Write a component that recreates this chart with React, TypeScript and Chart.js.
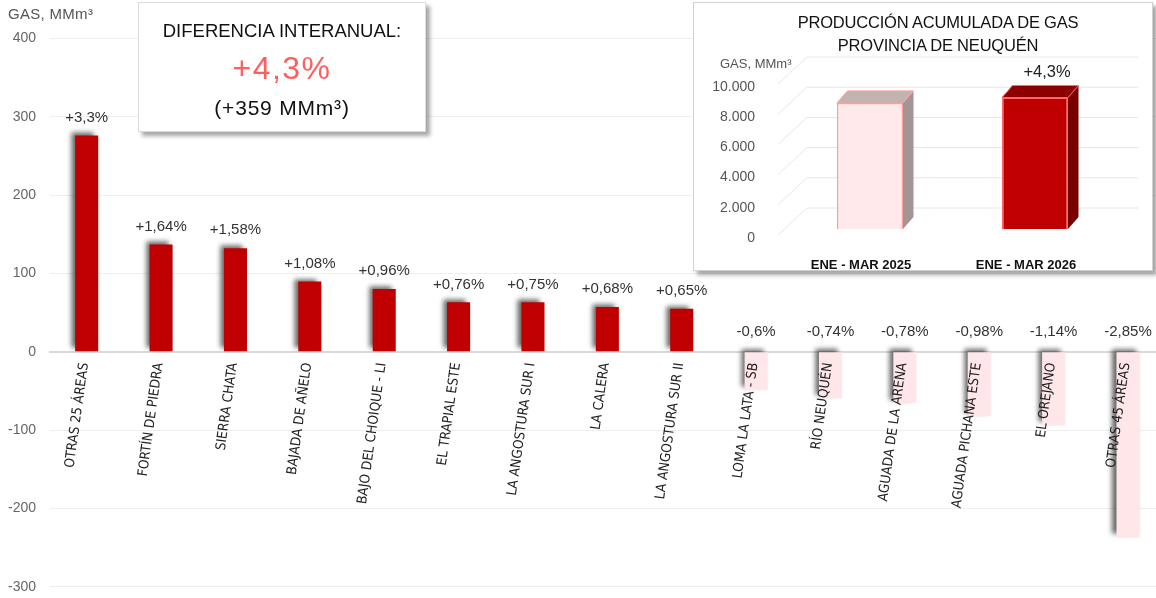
import React, { useEffect, useRef } from "react";
import { Chart, registerables } from "chart.js";

Chart.register(...registerables);

// ---------- DATA ----------
const categories = [
  "OTRAS 25 ÁREAS",
  "FORTÍN DE PIEDRA",
  "SIERRA CHATA",
  "BAJADA DE AÑELO",
  "BAJO DEL CHOIQUE - LI",
  "EL TRAPIAL ESTE",
  "LA ANGOSTURA SUR I",
  "LA CALERA",
  "LA ANGOSTURA SUR II",
  "LOMA LA LATA - SB",
  "RÍO NEUQUÉN",
  "AGUADA DE LA ARENA",
  "AGUADA PICHANA ESTE",
  "EL OREJANO",
  "OTRAS 45 ÁREAS",
];
const diffValues = [276, 137, 132, 89.5, 80, 63, 63, 57, 55, -49, -59, -65, -82, -94, -237];
const pctLabels = [
  "+3,3%", "+1,64%", "+1,58%", "+1,08%", "+0,96%", "+0,76%", "+0,75%", "+0,68%", "+0,65%",
  "-0,6%", "-0,74%", "-0,78%", "-0,98%", "-1,14%", "-2,85%",
];
const yMin = -300;
const yMax = 400;
const yStep = 100;

const insetCategories = ["ENE - MAR 2025", "ENE - MAR 2026"];
const insetValues = [8349, 8708];
const insetDeltaLabel = "+4,3%";
const insetMax = 10000;
const insetStep = 2000;

const summaryTitle = "DIFERENCIA INTERANUAL:";
const summaryPct = "+4,3%";
const summaryAbs = "(+359 MMm³)";
const unitLabel = "GAS, MMm³";
const insetTitle1 = "PRODUCCIÓN ACUMULADA DE GAS";
const insetTitle2 = "PROVINCIA DE NEUQUÉN";

// ---------- STYLE ----------
const FONT = '"Liberation Sans", Arial, sans-serif';
const NARROW = '"Liberation Sans Narrow", "DejaVu Sans Condensed", sans-serif';
const POS_COLOR = "#c00000";
const NEG_COLOR = "#ffe6e8";

const shadowPlugin = {
  id: "barShadow",
  beforeDatasetsDraw(chart: any) {
    const c = chart.ctx;
    c.save();
    c.shadowColor = "rgba(0,0,0,0.6)";
    c.shadowBlur = 5;
    c.shadowOffsetX = -4;
    c.shadowOffsetY = -3;
  },
  afterDatasetsDraw(chart: any) {
    chart.ctx.restore();
  },
};

const pctLabelPlugin = {
  id: "pctLabels",
  afterDatasetsDraw(chart: any) {
    const ctx = chart.ctx;
    const meta = chart.getDatasetMeta(0);
    const y0 = chart.scales.y.getPixelForValue(0);
    ctx.save();
    ctx.font = `15px ${FONT}`;
    ctx.fillStyle = "#333";
    ctx.textAlign = "center";
    ctx.textBaseline = "middle";
    meta.data.forEach((bar: any, i: number) => {
      const v = diffValues[i];
      const y = v >= 0 ? bar.y - 18 : y0 - 20;
      ctx.fillText(pctLabels[i], bar.x, y);
    });
    ctx.restore();
  },
};

const insetSide = ["#a39595", "#780000"];
const insetTop = ["#c2b3b3", "#8e0000"];
const insetBorder = ["#ff9c9c", "#ff6666"];
const DX = 10.5;
const DY = 12;

const grid3dPlugin = {
  id: "grid3d",
  beforeDatasetsDraw(chart: any) {
    const ctx = chart.ctx;
    const ys = chart.scales.y;
    ctx.save();
    ctx.strokeStyle = "#e6e6e6";
    ctx.lineWidth = 1;
    ys.ticks.forEach((t: any) => {
      const py = ys.getPixelForValue(t.value);
      ctx.beginPath();
      ctx.moveTo(84, py + 6);
      ctx.lineTo(113, py - 21);
      ctx.lineTo(444, py - 21);
      ctx.stroke();
    });
    ctx.restore();
  },
};

const bar3dPlugin = {
  id: "bar3d",
  beforeDatasetsDraw(chart: any) {
    const ctx = chart.ctx;
    const meta = chart.getDatasetMeta(0);
    ctx.save();
    meta.data.forEach((bar: any, i: number) => {
      const { x, y, base, width } = bar.getProps(["x", "y", "base", "width"], true);
      const l = x - width / 2;
      const r = x + width / 2;
      ctx.lineWidth = 1;
      ctx.strokeStyle = insetBorder[i];
      ctx.fillStyle = insetSide[i];
      ctx.beginPath();
      ctx.moveTo(r, y);
      ctx.lineTo(r + DX, y - DY);
      ctx.lineTo(r + DX, base - DY);
      ctx.lineTo(r, base);
      ctx.closePath();
      ctx.fill();
      ctx.fillStyle = insetTop[i];
      ctx.beginPath();
      ctx.moveTo(l, y);
      ctx.lineTo(l + DX, y - DY);
      ctx.lineTo(r + DX, y - DY);
      ctx.lineTo(r, y);
      ctx.closePath();
      ctx.fill();
      ctx.stroke();
    });
    ctx.restore();
  },
  afterDatasetsDraw(chart: any) {
    const ctx = chart.ctx;
    const meta = chart.getDatasetMeta(0);
    const bar = meta.data[1];
    ctx.save();
    ctx.font = `16.5px ${FONT}`;
    ctx.fillStyle = "#222";
    ctx.textAlign = "center";
    ctx.textBaseline = "middle";
    ctx.fillText(insetDeltaLabel, bar.x + 12, bar.y - 25);
    ctx.restore();
  },
};

function Txt(props: {
  left: number; cy: number; width: number; size: number; lh?: number;
  color?: string; weight?: number | string; ls?: number; align?: any; family?: string; children: any;
}) {
  const lh = props.lh ?? Math.round(props.size * 1.2);
  return (
    <div
      style={{
        position: "absolute",
        left: props.left,
        top: props.cy - lh / 2,
        width: props.width,
        lineHeight: `${lh}px`,
        fontSize: props.size,
        fontFamily: props.family ?? FONT,
        color: props.color ?? "#111",
        fontWeight: props.weight ?? 400,
        letterSpacing: props.ls ?? 0,
        textAlign: props.align ?? "center",
        whiteSpace: "pre",
      }}
    >
      {props.children}
    </div>
  );
}

export default function App() {
  const mainRef = useRef<HTMLCanvasElement>(null);
  const insetRef = useRef<HTMLCanvasElement>(null);

  useEffect(() => {
    Chart.defaults.font.family = FONT;
    const main = new Chart(mainRef.current as HTMLCanvasElement, {
      type: "bar",
      data: {
        labels: categories,
        datasets: [
          {
            data: diffValues,
            backgroundColor: diffValues.map((v) => (v >= 0 ? POS_COLOR : NEG_COLOR)),
            borderWidth: 0,
            barPercentage: 0.31,
            categoryPercentage: 1,
          },
        ],
      },
      options: {
        responsive: false,
        animation: false,
        layout: { padding: { top: 38.3, bottom: 11.2, left: 0, right: 4.8 } },
        plugins: { legend: { display: false }, tooltip: { enabled: false } },
        scales: {
          x: {
            position: { y: 0 } as any,
            grid: { display: false },
            border: { color: "#d9d9d9", width: 2 },
            ticks: {
              z: 1,
              minRotation: 82,
              maxRotation: 82,
              autoSkip: false,
              padding: 2,
              labelOffset: -2,
              color: "#222",
              font: { size: 13.7, family: NARROW },
            },
          },
          y: {
            min: yMin,
            max: yMax,
            ticks: { stepSize: yStep, padding: 0, color: "#666", font: { size: 14 } },
            grid: {
              color: "#eeeeee",
              drawTicks: true,
              tickLength: 13.5,
              tickColor: "rgba(0,0,0,0)",
              lineWidth: 1,
            },
            border: { display: false },
            afterFit(s: any) {
              s.width = 49.5;
            },
          },
        },
      },
      plugins: [shadowPlugin, pctLabelPlugin],
    });

    const inset = new Chart(insetRef.current as HTMLCanvasElement, {
      type: "bar",
      data: {
        labels: insetCategories,
        datasets: [
          {
            data: insetValues,
            backgroundColor: ["#ffe9eb", POS_COLOR],
            borderColor: insetBorder,
            borderWidth: 1.5,
            barPercentage: 0.4,
            categoryPercentage: 1,
          },
        ],
      },
      options: {
        responsive: false,
        animation: false,
        layout: { padding: { top: 75, right: 34.5, left: 0, bottom: 0 } },
        plugins: { legend: { display: false }, tooltip: { enabled: false } },
        scales: {
          x: {
            grid: { display: false },
            border: { display: false },
            ticks: { labelOffset: -9, padding: 21, color: "#111", font: { size: 13, weight: "bold" } },
            afterFit(s: any) {
              s.height = 41;
            },
          },
          y: {
            min: 0,
            max: insetMax,
            ticks: {
              stepSize: insetStep,
              labelOffset: 9,
              padding: 24.5,
              color: "#555",
              font: { size: 14 },
              callback: (v: any) => Number(v).toLocaleString("de-DE"),
            },
            grid: { display: false },
            border: { display: false },
            afterFit(s: any) {
              s.width = 93.5;
            },
          },
        },
      },
      plugins: [grid3dPlugin, bar3dPlugin],
    });

    return () => {
      main.destroy();
      inset.destroy();
    };
  }, []);

  return (
    <div
      style={{
        position: "absolute",
        left: 0,
        top: 0,
        width: 1156,
        height: 598,
        overflow: "hidden",
        background: "#fff",
      }}
    >
      <canvas
        ref={mainRef}
        width={1170}
        height={598}
        style={{ position: "absolute", left: 0, top: 0, width: 1170, height: 598 }}
      />
      <Txt left={8} cy={14} width={120} size={15} color="#555" align="left" ls={0.3}>
        {unitLabel}
      </Txt>

      {/* summary box */}
      <div
        style={{
          position: "absolute",
          left: 138,
          top: 2,
          width: 288,
          height: 130,
          boxSizing: "border-box",
          background: "#fff",
          border: "1px solid #dcdcdc",
          boxShadow: "4px 4px 4px rgba(0,0,0,0.35)",
        }}
      />
      <Txt left={138} cy={31} width={288} size={18.5} color="#111">
        {summaryTitle}
      </Txt>
      <Txt left={138} cy={68} width={288} size={32} color="#ff5e5e" ls={1.5}>
        {summaryPct}
      </Txt>
      <Txt left={138} cy={107} width={288} size={21} color="#111" ls={0.8}>
        {summaryAbs}
      </Txt>

      {/* inset box */}
      <div
        style={{
          position: "absolute",
          left: 693,
          top: 2,
          width: 460,
          height: 269,
          boxSizing: "border-box",
          background: "#fff",
          border: "1px solid #d0d0d0",
          boxShadow: "4px 4px 4px rgba(0,0,0,0.35)",
        }}
      />
      <Txt left={738} cy={22} width={400} size={16.5} color="#111" ls={-0.2}>
        {insetTitle1}
      </Txt>
      <Txt left={738} cy={45} width={400} size={16.5} color="#111" ls={-0.2}>
        {insetTitle2}
      </Txt>
      <Txt left={720} cy={64} width={120} size={13} color="#555" align="left">
        {unitLabel}
      </Txt>
      <canvas
        ref={insetRef}
        width={458}
        height={267}
        style={{ position: "absolute", left: 694, top: 3, width: 458, height: 267 }}
      />
    </div>
  );
}
